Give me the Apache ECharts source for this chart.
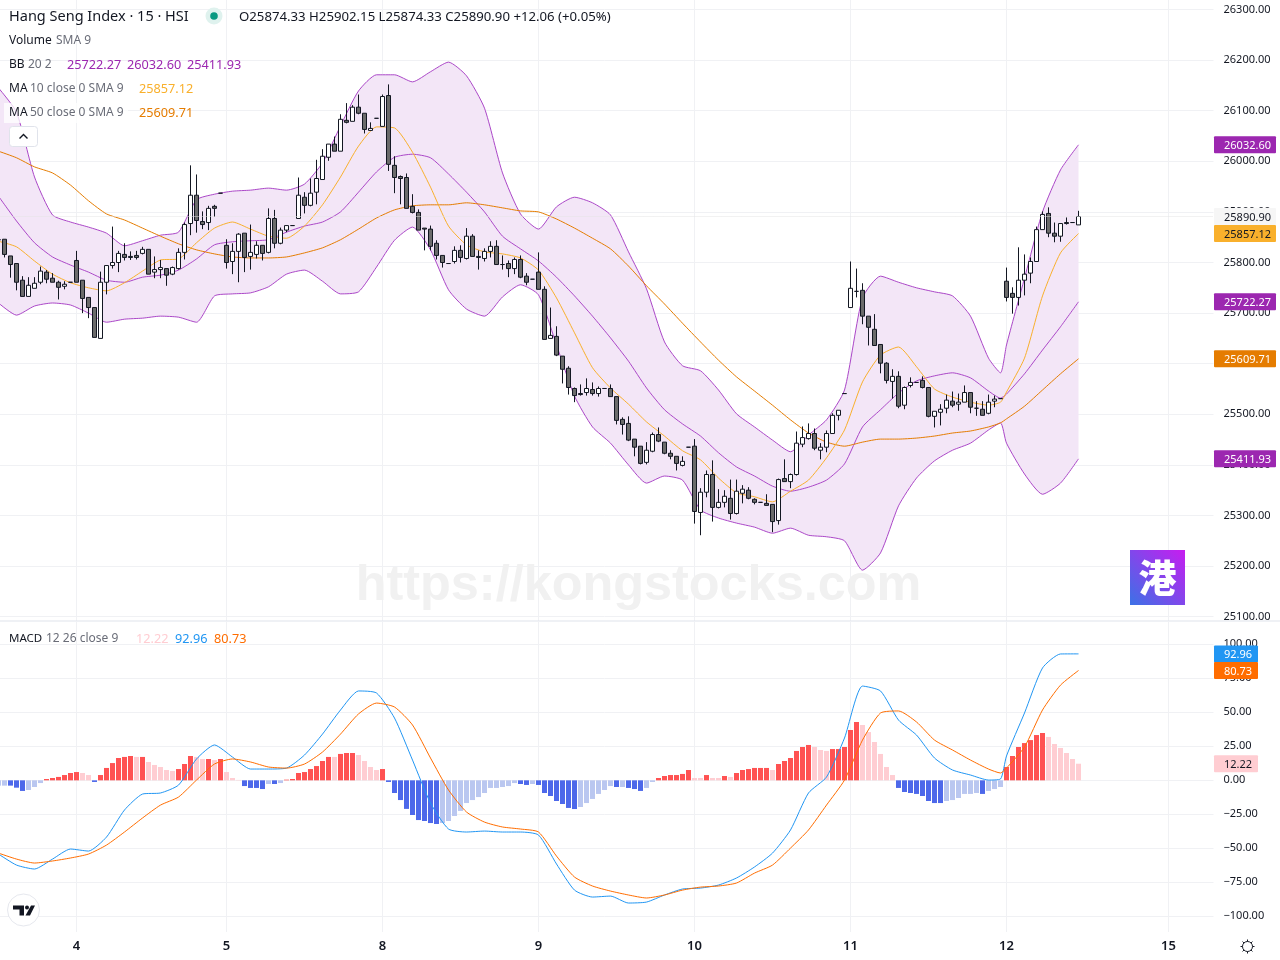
<!DOCTYPE html>
<html><head><meta charset="utf-8">
<style>html,body{margin:0;padding:0;background:#fff;overflow:hidden;width:1280px;height:960px}#c{position:absolute;left:-6px;top:0;width:1286px;height:960px}</style>
<script src="https://cdn.jsdelivr.net/npm/echarts@6/dist/echarts.min.js"></script>
</head><body><div id="c"></div>
<script>
const opens=[25845,25846,25813,25798,25765,25733,25749,25761,25781,25769,
25761,25753,25761,25804,25765,25731,25711,25650,25761,25794,
25800,25816,25812,25814,25818,25826,25781,25786,25788,25777,
25788,25820,25877,25933,25881,25879,25911,25937,25834,25802,
25822,25858,25812,25816,25834,25820,25887,25838,25864,25873,
25887,25929,25913,25939,25964,26008,26034,26020,26081,26079,
26107,26095,26061,26085,26069,26130,25992,25970,25968,25911,
25899,25868,25866,25838,25814,25798,25802,25824,25808,25852,
25812,25808,25822,25832,25796,25798,25788,25806,25773,25767,
25781,25747,25650,25654,25615,25591,25551,25541,25543,25549,
25541,25551,25551,25535,25490,25482,25451,25437,25405,25427,
25460,25445,25423,25417,25399,25435,25437,25306,25346,25381,
25316,25326,25334,25304,25344,25350,25332,25326,25324,25322,
25290,25373,25367,25381,25441,25452,25462,25429,25435,25462,
25498,25541,25711,25743,25745,25694,25668,25638,25601,25565,
25575,25518,25557,25563,25567,25553,25496,25504,25512,25526,
25520,25524,25543,25512,25510,25502,25526,25531,25763,25739,
25731,25765,25779,25802,25865,25897,25858,25852,25879,25879,25874.33];
const closes=[25845,25816,25796,25761,25733,25755,25759,25783,25767,25761,
25751,25757,25761,25761,25729,25711,25652,25761,25794,25800,
25818,25810,25810,25810,25826,25777,25786,25790,25775,25790,
25820,25875,25933,25883,25875,25907,25907,25937,25800,25822,
25856,25810,25820,25834,25818,25887,25838,25864,25873,25873,
25933,25913,25937,25966,26010,26034,26020,26083,26077,26107,
26095,26063,26065,26085,26128,25994,25968,25966,25907,25899,
25864,25866,25832,25814,25800,25798,25824,25810,25852,25812,
25810,25822,25832,25796,25796,25788,25806,25771,25761,25767,
25747,25648,25656,25617,25589,25553,25537,25539,25551,25541,
25551,25551,25535,25488,25480,25449,25435,25403,25429,25460,
25447,25423,25417,25403,25407,25435,25308,25346,25381,25316,
25326,25338,25304,25348,25352,25334,25326,25326,25320,25288,
25371,25367,25381,25443,25454,25462,25433,25435,25462,25498,
25508,25541,25749,25743,25694,25672,25636,25601,25567,25575,
25516,25553,25563,25563,25553,25496,25506,25510,25528,25518,
25524,25543,25514,25512,25498,25524,25530,25531,25731,25731,
25765,25777,25802,25865,25895,25858,25852,25877,25877,25879,25890.90];
const lows=[25844,25810,25770,25745,25733,25733,25749,25757,25759,25761,
25727,25747,25761,25761,25700,25690,25652,25650,25737,25788,
25781,25804,25805,25806,25816,25777,25769,25769,25754,25775,
25786,25806,25854,25859,25866,25864,25890,25937,25788,25777,
25761,25781,25786,25808,25804,25818,25828,25836,25860,25873,
25887,25897,25911,25915,25964,26001,26020,26020,26075,26079,
26093,26055,26061,26085,26069,25981,25937,25915,25907,25897,
25864,25824,25824,25806,25790,25798,25798,25800,25806,25812,
25786,25802,25810,25796,25786,25771,25777,25769,25755,25767,
25747,25648,25650,25615,25561,25539,25524,25537,25537,25537,
25535,25551,25535,25480,25460,25447,25417,25401,25401,25425,
25445,25421,25411,25389,25397,25435,25284,25261,25336,25288,
25314,25316,25292,25302,25324,25332,25322,25326,25320,25267,
25282,25367,25354,25379,25435,25450,25429,25411,25425,25462,
25488,25541,25711,25731,25678,25636,25636,25581,25561,25531,
25512,25510,25553,25563,25551,25494,25474,25478,25502,25514,
25507,25524,25502,25497,25498,25500,25514,25531,25723,25699,
25715,25735,25759,25802,25865,25850,25840,25841,25875,25879,25874.33];
const highs=[25846,25846,25813,25798,25773,25771,25771,25792,25785,25779,
25764,25763,25761,25823,25765,25731,25711,25782,25794,25871,
25823,25838,25822,25823,25831,25826,25812,25805,25788,25792,
25828,25879,25992,25974,25901,25912,25914,25937,25846,25838,
25858,25858,25875,25842,25834,25907,25904,25869,25873,25873,
25968,25939,25966,26003,26024,26034,26049,26093,26115,26111,
26132,26095,26077,26085,26132,26152,26010,25972,25976,25935,
25905,25868,25873,25844,25814,25798,25832,25834,25868,25856,
25824,25828,25842,25844,25814,25804,25810,25814,25779,25767,
25820,25753,25711,25674,25615,25595,25553,25559,25571,25563,
25555,25551,25559,25535,25494,25496,25451,25437,25445,25464,
25474,25445,25429,25417,25417,25435,25451,25354,25389,25409,
25352,25350,25371,25371,25360,25356,25334,25326,25342,25322,
25373,25411,25383,25466,25476,25482,25472,25443,25468,25502,
25508,25541,25802,25788,25759,25694,25698,25638,25603,25589,
25585,25555,25573,25563,25575,25553,25506,25520,25539,25545,
25541,25557,25543,25526,25526,25539,25537,25531,25790,25751,
25830,25816,25810,25871,25901,25909,25879,25877,25889,25879,25902.15];

const sampleBars=[0,3,6,9,12,15,18,21,24,27,30,33,36,39,42,45,48,51,54,57,60,63,66,69,72,75,78,81,84,87,90,93,96,99,102,105,108,111,114,117,120,123,126,129,132,135,138,141,144,147,150,153,156,159,162,165,167,168,171,174,177,180];
const bbUpper=[26145,26097,25969,25894,25880,25870,25858,25833,25843,25854,25860,25924,25935,25941,25943,25947,25943,25955,25997,26070,26139,26171,26171,26157,26177,26196,26169,26105,25977,25896,25866,25910,25929,25918,25894,25821,25748,25643,25596,25586,25548,25501,25475,25449,25426,25459,25489,25548,25730,25773,25761,25750,25742,25734,25694,25611,25582,25637,25769,25900,25983,26032.6];
const bbMid=[25931,25882,25839,25811,25795,25781,25765,25761,25771,25775,25785,25807,25835,25841,25843,25845,25860,25872,25880,25900,25939,25979,26008,26014,26007,25975,25939,25900,25852,25827,25803,25771,25734,25694,25651,25605,25552,25509,25481,25457,25424,25396,25378,25358,25348,25356,25370,25402,25475,25509,25542,25566,25576,25582,25572,25546,25532,25540,25580,25627,25673,25722.27];
const bbLower=[25720,25696,25714,25720,25716,25700,25682,25688,25690,25694,25692,25682,25734,25738,25740,25752,25777,25785,25763,25738,25742,25791,25844,25870,25825,25746,25708,25694,25732,25756,25736,25637,25536,25475,25443,25400,25364,25378,25370,25311,25295,25285,25277,25265,25275,25261,25258,25250,25192,25226,25319,25374,25408,25429,25443,25469,25483,25443,25382,25342,25364,25411.93];
const ma10=[25842,25831,25803,25777,25760,25750,25744,25760,25783,25805,25807,25839,25868,25880,25866,25852,25848,25872,25914,25969,26030,26068,26066,26018,25949,25872,25835,25821,25817,25809,25785,25730,25661,25592,25552,25520,25485,25457,25428,25410,25374,25345,25337,25327,25348,25370,25414,25469,25564,25617,25633,25594,25550,25534,25524,25518,25524,25544,25611,25734,25819,25857.12];
const ma50=[26020,26007,25989,25977,25953,25922,25896,25884,25868,25852,25837,25825,25817,25811,25809,25809,25811,25819,25829,25845,25866,25888,25904,25912,25914,25914,25918,25914,25908,25902,25900,25886,25868,25848,25827,25793,25754,25718,25680,25643,25607,25574,25546,25518,25489,25463,25445,25437,25445,25451,25451,25453,25457,25463,25467,25475,25483,25491,25516,25548,25580,25609.71];
const macdLine=[-54.2,-62.3,-65.2,-57.9,-50.5,-52,-41.7,-21.8,-10.1,-9.3,-3.5,15.7,26,17.1,8.3,8.3,9,18.6,34,51.7,65.7,64.2,45.8,14.9,-16.7,-35.8,-38,-37.3,-38,-38,-40.2,-61.5,-80.7,-85.8,-85.1,-90.2,-89.5,-84.3,-79.9,-79.2,-77,-71.8,-63.7,-53.5,-36.5,-9.3,2.4,31.1,69.3,65.7,44.3,33.3,16.4,7.6,3.9,0.2,1,17.9,49.5,82.6,92.9,92.96];
const signalLine=[-53.5,-57.9,-60.8,-59.3,-57.1,-54.2,-47.6,-38,-27.7,-18.2,-12.3,0.2,12,15.7,13.5,9.8,9,12,20.8,34,48.8,56.8,53.9,40.7,16.4,-7.1,-23.3,-30.7,-34.3,-35.8,-38,-55.7,-71.1,-77.7,-81.4,-84.3,-86.5,-84.3,-80.7,-78.5,-77.7,-75.5,-68.2,-62.3,-49.8,-36.5,-18.2,0.2,29.6,49.5,51,42.9,29.6,22.3,14.9,8.3,5.4,9,24.5,51.7,70,80.73];
const histValues=[-3.9,-3.9,-3.9,-5.4,-7.8,-7.1,-4.9,-2,1,1.7,
2.5,3.9,5.4,6.1,5.4,3.9,-1.2,3.9,9.1,12.7,
16.4,17.2,17.9,17.2,17.2,13.5,11.3,9.8,7.6,6.9,
8.3,12,17.9,17.2,15.7,15.7,14.9,15.7,6.1,1.7,
0.3,-4.2,-5.6,-5.6,-6.4,-2.7,-2.7,-2,0.5,1,
5.4,6.1,8.3,10.5,14.2,17.2,17.2,19.4,20.1,20.1,
18.6,14.2,9.8,7.6,8.3,-1.2,-9.3,-14.5,-21,-25.5,
-29.2,-29.9,-31.4,-32.1,-31.4,-29.9,-26.2,-22.5,-16.7,-14.5,
-12.3,-9.3,-5.6,-5.6,-4.9,-4.2,-2,-2.7,-3.4,-2.7,
-3.4,-9.3,-11.5,-15.2,-17.4,-20.3,-21.1,-19.6,-16.7,-13.7,
-10,-7.1,-4.2,-4.9,-4.9,-5.6,-6.4,-7.8,-5.6,-1.2,
1.7,3.2,3.9,3.9,4.7,7.6,1.7,1.7,3.9,1.7,
1.7,3.2,2.5,5.4,7.6,8.3,9.1,9.1,9.1,7.6,
12,14.2,16.4,21.6,24.5,26,24.5,22.3,21.6,23,
23,24.5,37,42.9,40.7,35.5,28.2,19.4,9.8,3.9,
-5.6,-8.6,-9.3,-10,-11.5,-15.2,-16.7,-16.7,-15.2,-14.5,
-13,-10,-10,-9.3,-10,-7.8,-6.4,-4.9,9.8,17.9,
24.5,27.4,29.6,33.3,34.8,31.9,26.7,23.8,20.1,15.7,12.22];
const histTones="LLDDDLLLRR"+"RRRRPPDRRR"+"RRRPRPPPPP"+"RRRPPRPRPP"+"PDDDDLDLRR"+"RRRRRRPRRR"+"PPPPRDDDDD"+"DDDDLLLLLL"+"LLLLLLLDDL"+"DDDDDDDLLL"+"LLLDLDDDLL"+"RRRRRRPPRP"+"PRPRRRRRRP"+"RRRRRRPPPR"+"RRRRPPPPPP"+"DDDDDDDDLL"+"LLLLDLLLRR"+"RRRRRPPPPP"+"P";
const dayTicks={13:"4",38:"5",64:"8",90:"9",116:"10",142:"11",168:"12",195:"15"};
const categoryCount=203;
const categories=Array.from({length:categoryCount},(_,i)=>dayTicks[i]||"");
const priceTicks=[25100,25200,25300,25400,25500,25600,25700,25800,25900,26000,26100,26200,26300];
const macdTicks=[-100,-75,-50,-25,0,25,50,75,100];
const lastClose=25890.90;

const FONT='"Noto Sans",sans-serif';
const INK='#131722',MUTED='#6a6d78',GRID='#f0f1f4';
const PURPLE='#9c27b0',MA10C='#f9b02c',MA50C='#e57c00',BLUE='#2196f3',SIG='#ff6d00';
const toneColor={R:'#ff5252',P:'#ffcdd2',D:'#4d68ea',L:'#bac7f0'};
const SMOOTH=0.2;

const pairs=a=>a.map((v,k)=>[sampleBars[k],v]);
const isDay=i=>!!categories[i];
const candles=opens.map((o,i)=>[o,closes[i],lows[i],highs[i]]);
const bandWidth=bbUpper.map((v,i)=>+(v-bbLower[i]).toFixed(2));
const hist=histValues.map((v,i)=>({value:v,itemStyle:{color:toneColor[histTones[i]]}}));
const mkLine=(name,a,color,extra,xi)=>Object.assign({type:'line',name,data:pairs(a),showSymbol:false,symbol:'none',smooth:SMOOTH,
  xAxisIndex:xi||0,yAxisIndex:xi||0,lineStyle:{color,width:1},itemStyle:{color},animation:false,silent:true,z:3},extra||{});
const xBase=(gi,showLabel)=>({type:'category',gridIndex:gi,data:categories,boundaryGap:true,
  axisLine:{show:false},axisTick:{show:false,interval:(i)=>isDay(i)},
  axisLabel:{show:showLabel,interval:(i)=>isDay(i),color:INK,fontFamily:FONT,fontSize:13,fontWeight:600,margin:8,hideOverlap:false},
  splitLine:{show:true,interval:(i)=>isDay(i),alignWithLabel:true,lineStyle:{color:GRID,width:1}}});
const yBase=(gi,ticks,min,max,fmt)=>({type:'value',gridIndex:gi,position:'right',min,max,scale:true,
  axisLine:{show:false},axisTick:{show:false,customValues:ticks},
  axisLabel:{customValues:ticks,color:INK,fontFamily:FONT,fontSize:11,margin:10,align:'left',formatter:fmt,showMinLabel:true,showMaxLabel:true},
  splitLine:{show:true,lineStyle:{color:GRID,width:1}}});

const chart=echarts.init(document.getElementById('c'),null,{renderer:'canvas',width:1286,height:960});
chart.setOption({
  animation:false,backgroundColor:'#fff',
  grid:[{left:1.5,top:0,width:1218,height:621},{left:1.5,top:622,width:1218,height:310}],
  xAxis:[xBase(0,false),xBase(1,true)],
  yAxis:[yBase(0,priceTicks,25091.5,26318.8,v=>v.toFixed(2)),
         yBase(1,macdTicks,-111.5,116.4,v=>v.toFixed(2).replace('-','\u2212'))],
  series:[
    {type:'line',name:'BB base',stack:'bb',data:pairs(bbLower),smooth:SMOOTH,showSymbol:false,symbol:'none',lineStyle:{opacity:0},areaStyle:{opacity:0},silent:true,z:1},
    {type:'line',name:'BB fill',stack:'bb',data:pairs(bandWidth),smooth:SMOOTH,showSymbol:false,symbol:'none',lineStyle:{opacity:0},areaStyle:{color:'#f3e6f7',opacity:1},silent:true,z:1},
    mkLine('BB upper',bbUpper,'#ab47c8'),
    mkLine('BB basis',bbMid,'#ab47c8'),
    mkLine('BB lower',bbLower,'#ab47c8'),
    mkLine('MA 50',ma50,MA50C),
    mkLine('MA 10',ma10,MA10C),
    {type:'candlestick',name:'HSI',data:candles,barWidth:4,z:4,silent:true,
     itemStyle:{color:'#ffffff',color0:'#6b6b6b',borderColor:INK,borderColor0:INK,borderColorDoji:INK,borderWidth:1},
     markLine:{silent:true,symbol:'none',animation:false,label:{show:false},
       lineStyle:{color:'#e4e4e4',type:'dotted',width:1},data:[{yAxis:lastClose}]}},
    {type:'bar',name:'Histogram',xAxisIndex:1,yAxisIndex:1,data:hist,barWidth:5,silent:true,z:2},
    mkLine('MACD',macdLine,BLUE,{z:3},1),
    mkLine('Signal',signalLine,SIG,{z:3},1)
  ]
});

const T=(x,y,text,fill,size,extra)=>({type:'text',x,y:y+1,z:120,silent:true,
  style:Object.assign({text,fill,font:(size||13)+'px '+FONT,textVerticalAlign:'middle',textAlign:'left'},extra||{})});
const badge=(yAxisIndex,value,bg,fg,w,label)=>{
  const y=chart.convertToPixel({yAxisIndex},value);
  return [{type:'rect',z:110,silent:true,shape:{x:1214,y:y-8.5,width:w,height:17,r:1},style:{fill:bg}},
          T(1224,y,label||value.toFixed(2),fg,11)];
};
const LEG=12.7;
const gfx=[];
// watermark and logo
gfx.push({type:'text',x:638.5,y:586,z:1,silent:true,style:{text:'https://kongstocks.com',fill:'#f1f1f1',font:'bold 50.4px "Liberation Sans",Arial,sans-serif',textAlign:'center',textVerticalAlign:'middle'}});
gfx.push({type:'rect',z:110,silent:true,shape:{x:1130,y:550,width:55,height:55},style:{fill:new echarts.graphic.LinearGradient(0,1,1,0,[{offset:0,color:'#3b72e6'},{offset:1,color:'#c81cf0'}])}});
gfx.push({type:'text',x:1157.5,y:578,z:111,silent:true,style:{text:'\u6e2f',fill:'#fff',font:'900 38px "Noto Sans CJK SC",sans-serif',textAlign:'center',textVerticalAlign:'middle'}});
// pane separator
gfx.push({type:'rect',z:100,silent:true,shape:{x:0,y:620.6,width:1280,height:1},style:{fill:'#e0e3eb'}});
// legend backdrop
gfx.push({type:'rect',z:90,silent:true,shape:{x:4,y:103,width:124,height:20},style:{fill:'rgba(255,255,255,0.75)'}});
// header
gfx.push(T(9,16,'Hang Seng Index \u00b7 15 \u00b7 HSI',INK,14.5));
gfx.push({type:'circle',z:110,silent:true,shape:{cx:214,cy:16,r:8.5},style:{fill:'#dff2ee'}});
gfx.push({type:'circle',z:111,silent:true,shape:{cx:214,cy:16,r:3.8},style:{fill:'#089981'}});
gfx.push(T(239,16,'O25874.33 H25902.15 L25874.33 C25890.90 +12.06 (+0.05%)',INK,13.2));
gfx.push(T(9,40,'Volume',INK,12),T(56,40,'SMA 9',MUTED,12));
gfx.push(T(9,64,'BB',INK,12),T(28,64,'20 2',MUTED,12),T(67,64,'25722.27',PURPLE,LEG),T(127,64,'26032.60',PURPLE,LEG),T(187,64,'25411.93',PURPLE,LEG));
gfx.push(T(9,88,'MA',INK,12),T(30,88,'10 close 0 SMA 9',MUTED,12),T(139,88,'25857.12',MA10C,LEG));
gfx.push(T(9,112,'MA',INK,12),T(30,112,'50 close 0 SMA 9',MUTED,12),T(139,112,'25609.71',MA50C,LEG));
gfx.push(T(9,638,'MACD',INK,11.5),T(46,638,'12 26 close 9',MUTED,12),T(136,638,'12.22','#ffcdd2',LEG),T(175,638,'92.96',BLUE,LEG),T(214,638,'80.73',SIG,LEG));
// collapse button
gfx.push({type:'rect',z:110,silent:true,shape:{x:9.5,y:126.5,width:28,height:20,r:3},style:{fill:'#fff',stroke:'#e0e3eb',lineWidth:1}});
gfx.push({type:'polyline',z:111,silent:true,shape:{points:[[19.5,138.5],[23.5,134.5],[27.5,138.5]]},style:{stroke:INK,lineWidth:1.4,fill:null}});
// TradingView mark
gfx.push({type:'circle',z:110,silent:true,shape:{cx:23.5,cy:910,r:16},style:{fill:'#fff',stroke:'#e6e8ee',lineWidth:1}});
gfx.push({type:'polygon',z:111,silent:true,shape:{points:[[13,905.5],[24,905.5],[24,915.5],[19.5,915.5],[19.5,909.5],[13,909.5]]},style:{fill:INK}});
gfx.push({type:'circle',z:111,silent:true,shape:{cx:27,cy:907.5,r:2},style:{fill:INK}});
gfx.push({type:'polygon',z:111,silent:true,shape:{points:[[31,905.5],[35,905.5],[30,915.5],[25.5,915.5]]},style:{fill:INK}});
// gear
const gx=1247.5,gy=946.5;
gfx.push({type:'circle',z:111,silent:true,shape:{cx:gx,cy:gy,r:5},style:{fill:'#fff',stroke:INK,lineWidth:1}});
for(let k=0;k<8;k++){const a=k*Math.PI/4;gfx.push({type:'line',z:111,silent:true,shape:{x1:gx+Math.cos(a)*5,y1:gy+Math.sin(a)*5,x2:gx+Math.cos(a)*7,y2:gy+Math.sin(a)*7},style:{stroke:INK,lineWidth:1}});}
// axis badges
gfx.push(...badge(0,bbUpper[bbUpper.length-1],PURPLE,'#fff',62));
gfx.push(...badge(0,lastClose,'#f6f6f6',INK,62));
gfx.push(...badge(0,ma10[ma10.length-1],MA10C,INK,62));
gfx.push(...badge(0,bbMid[bbMid.length-1],PURPLE,'#fff',62));
gfx.push(...badge(0,ma50[ma50.length-1],MA50C,'#fff',62));
gfx.push(...badge(0,bbLower[bbLower.length-1],PURPLE,'#fff',62));
gfx.push(...badge(1,macdLine[macdLine.length-1],BLUE,'#fff',44));
gfx.push(...badge(1,signalLine[signalLine.length-1],SIG,'#fff',44));
gfx.push(...badge(1,histValues[histValues.length-1],'#ffcdd2',INK,44));
chart.setOption({graphic:{elements:[{type:'group',x:6,y:0,children:gfx}]}});
</script></body></html>
